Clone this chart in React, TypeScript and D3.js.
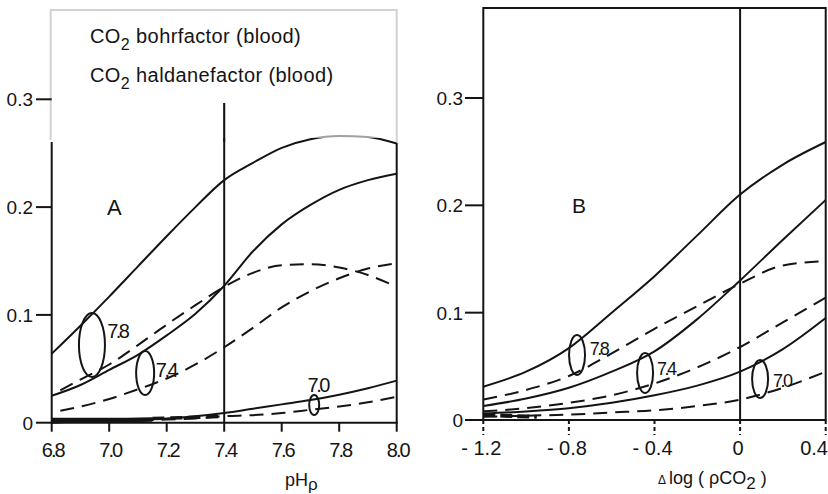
import React from "react";
import * as d3 from "d3";

// ---- axis ticks ----
const pHTicks = [6.8, 7.0, 7.2, 7.4, 7.6, 7.8, 8.0];
const dLogTicks = [-1.2, -0.8, -0.4, 0, 0.4];
const factorTicks = [0, 0.1, 0.2, 0.3];

// ---- panel A: factor vs plasma pH ----
const pHGrid = [6.8, 6.9, 7.0, 7.1, 7.2, 7.3, 7.4, 7.5, 7.6, 7.7, 7.8, 7.9, 8.0];
const pHGridDash = [6.83, 6.9, 7.0, 7.1, 7.2, 7.3, 7.4, 7.5, 7.6, 7.7, 7.8, 7.9, 8.0];
const bohrA78 = [0.064, 0.090, 0.117, 0.145, 0.173, 0.200, 0.225, 0.241, 0.255, 0.263, 0.266, 0.265, 0.259];
const bohrA74 = [0.025, 0.035, 0.049, 0.063, 0.081, 0.101, 0.127, 0.159, 0.184, 0.202, 0.216, 0.225, 0.231];
const bohrA70 = [0.001, 0.0015, 0.002, 0.003, 0.004, 0.006, 0.009, 0.013, 0.017, 0.021, 0.026, 0.032, 0.039];
const haldA78 = [0.030, 0.040, 0.054, 0.072, 0.091, 0.109, 0.126, 0.139, 0.146, 0.147, 0.144, 0.137, 0.126];
const haldA74 = [0.011, 0.015, 0.022, 0.031, 0.041, 0.054, 0.070, 0.088, 0.107, 0.122, 0.134, 0.143, 0.148];
const haldA70 = [0.000, 0.001, 0.001, 0.002, 0.003, 0.004, 0.006, 0.007, 0.009, 0.012, 0.015, 0.019, 0.024];
const lowBandA = [6.8, 7.0, 7.15];
const lowBandAVals = [0.0025, 0.0025, 0.003];
const lowDashA = [7.15, 7.3, 7.4];
const lowDashAVals = [0.004, 0.005, 0.006];

// ---- panel B: factor vs delta log pCO2 ----
const dLogGrid = [-1.2, -1.0, -0.8, -0.6, -0.4, -0.2, 0, 0.2, 0.4];
const bohrB78 = [0.031, 0.045, 0.067, 0.100, 0.134, 0.172, 0.210, 0.238, 0.259];
const bohrB74 = [0.013, 0.020, 0.030, 0.045, 0.064, 0.094, 0.130, 0.168, 0.205];
const bohrB70 = [0.006, 0.008, 0.011, 0.016, 0.023, 0.032, 0.045, 0.066, 0.095];
const haldB78 = [0.019, 0.028, 0.041, 0.062, 0.085, 0.106, 0.127, 0.144, 0.148];
const haldB74 = [0.008, 0.011, 0.016, 0.023, 0.034, 0.049, 0.068, 0.091, 0.114];
const haldB70 = [0.003, 0.004, 0.005, 0.007, 0.009, 0.013, 0.019, 0.030, 0.045];
const lowBandB = [-1.2, -1.1, -0.95];
const lowBandBVals = [0.005, 0.004, 0.003];

// ---- pH markers (ellipse centre and label anchor, in data units) ----
const markLabels = ["7.8", "7.4", "7.0"];
const markA = [
  { x: 6.94, y: 0.072 },
  { x: 7.125, y: 0.046 },
  { x: 7.713, y: 0.0164 },
];
const markALabel = [
  { x: 6.993, y: 0.079 },
  { x: 7.162, y: 0.042 },
  { x: 7.69, y: 0.0285 },
];
const markB = [
  { x: -0.762, y: 0.0606 },
  { x: -0.444, y: 0.0438 },
  { x: 0.0935, y: 0.0382 },
];
const markBLabel = [
  { x: -0.703, y: 0.061 },
  { x: -0.388, y: 0.042 },
  { x: 0.154, y: 0.031 },
];

const FONT = "'Liberation Sans', Arial, sans-serif";
const INK = "#141414";
const DASH = "14 8";

export default function App() {
  const xA = d3.scaleLinear().domain([6.8, 8.0]).range([51.7, 396.7]);
  const yA = d3.scaleLinear().domain([0, 0.3]).range([422.7, 99.3]);
  const xB = d3.scaleLinear().domain([-1.2, 0.4]).range([483.3, 825.7]);
  const yB = d3.scaleLinear().domain([0, 0.3]).range([420, 98]);

  const path = (sx: any, sy: any, xs: number[], ys: number[]) =>
    d3
      .line<number>()
      .x((_, i) => sx(xs[i]))
      .y((d) => sy(d))
      .curve(d3.curveMonotoneX)(ys) || "";

  const curvesA = [
    { xs: pHGrid, ys: bohrA78, dashed: false },
    { xs: pHGrid, ys: bohrA74, dashed: false },
    { xs: pHGrid, ys: bohrA70, dashed: false },
    { xs: pHGridDash, ys: haldA78, dashed: true },
    { xs: pHGridDash, ys: haldA74, dashed: true },
    { xs: pHGrid, ys: haldA70, dashed: true },
  ];
  const curvesB = [
    { xs: dLogGrid, ys: bohrB78, dashed: false },
    { xs: dLogGrid, ys: bohrB74, dashed: false },
    { xs: dLogGrid, ys: bohrB70, dashed: false },
    { xs: dLogGrid, ys: haldB78, dashed: true },
    { xs: dLogGrid, ys: haldB74, dashed: true },
    { xs: dLogGrid, ys: haldB70, dashed: true },
  ];

  const rA = [
    [13, 32],
    [9, 22],
    [5, 10],
  ];
  const rB = [
    [8, 20],
    [8, 20],
    [8, 19],
  ];

  const a0 = yA(0);
  const b0 = yB(0);
  const fmt = (v: number) => (v === 0 ? "0" : v.toFixed(1));
  const lastB = dLogTicks[dLogTicks.length - 1];

  return (
    <svg
      width={828}
      height={494}
      style={{ position: "absolute", left: 0, top: 0, background: "#fff" }}
      fontFamily={FONT}
    >
      <rect x={0} y={0} width={828} height={494} fill="#fff" />

      {/* ===== Panel A ===== */}
      <g>
        {/* frame */}
        <line x1={xA(6.8)} x2={xA(6.8)} y1={142} y2={a0} stroke={INK} strokeWidth={2} />
        <line x1={xA(8.0)} x2={xA(8.0)} y1={143} y2={a0} stroke={INK} strokeWidth={2} />
        <line x1={xA(6.8) - 1} x2={xA(8.0) + 1} y1={a0} y2={a0} stroke={INK} strokeWidth={2} />
        <line x1={xA(7.4)} x2={xA(7.4)} y1={103} y2={a0} stroke={INK} strokeWidth={2} />

        {curvesA.map((c, i) => (
          <path
            key={i}
            d={path(xA, yA, c.xs, c.ys)}
            fill="none"
            stroke={INK}
            strokeWidth={2}
            strokeDasharray={c.dashed ? DASH : undefined}
          />
        ))}
        <path d={path(xA, yA, lowBandA, lowBandAVals)} fill="none" stroke={INK} strokeWidth={4.5} />
        <path
          d={path(xA, yA, lowDashA, lowDashAVals)}
          fill="none"
          stroke={INK}
          strokeWidth={3.5}
          strokeDasharray="12 6"
        />

        {/* legend panel overlapping the top of the plot */}
        <rect x={52.7} y={10} width={343} height={128} fill="#fff" fillOpacity={0.6} />
        <path
          d={`M${xA(6.8) - 1},140 V10 H${xA(8.0)} V142`}
          fill="none"
          stroke="#d2d2d2"
          strokeWidth={2}
        />
        <line x1={xA(7.4)} x2={xA(7.4)} y1={103} y2={142} stroke={INK} strokeWidth={2} />

        {/* y ticks */}
        {factorTicks.map((t) => (
          <g key={t}>
            <line x1={36} x2={xA(6.8)} y1={yA(t)} y2={yA(t)} stroke={INK} strokeWidth={2} />
            <text x={33} y={yA(t) + 7} fontSize={19} textAnchor="end" fill={INK}>
              {fmt(t)}
            </text>
          </g>
        ))}
        {/* x ticks */}
        {pHTicks.map((t) => (
          <g key={t}>
            <line x1={xA(t)} x2={xA(t)} y1={a0} y2={a0 + 9} stroke={INK} strokeWidth={2} />
            <text
              x={xA(t) + 1}
              y={456.5}
              fontSize={20}
              letterSpacing={-2}
              textAnchor="middle"
              fill={INK}
            >
              {t.toFixed(1)}
            </text>
          </g>
        ))}

        {markA.map((m, i) => (
          <ellipse
            key={i}
            cx={xA(m.x)}
            cy={yA(m.y)}
            rx={rA[i][0]}
            ry={rA[i][1]}
            fill="none"
            stroke={INK}
            strokeWidth={2}
          />
        ))}
        {markALabel.map((m, i) => (
          <text key={i} x={xA(m.x)} y={yA(m.y)} fontSize={20} letterSpacing={-2.5} fill={INK}>
            {markLabels[i]}
          </text>
        ))}

        <text x={107} y={215} fontSize={22} fill={INK}>
          A
        </text>

        <text x={90} y={43} fontSize={20} letterSpacing={0.4} fill={INK}>
          CO
          <tspan fontSize={16} dy={7}>
            2
          </tspan>
          <tspan dy={-7}> bohrfactor (blood)</tspan>
        </text>
        <text x={90} y={82} fontSize={20} letterSpacing={0.4} fill={INK}>
          CO
          <tspan fontSize={16} dy={7}>
            2
          </tspan>
          <tspan dy={-7}> haldanefactor (blood)</tspan>
        </text>

        <text x={285} y={485.5} fontSize={18} fill={INK}>
          pH
          <tspan fontSize={17} dy={4}>
            ρ
          </tspan>
        </text>
      </g>

      {/* ===== Panel B ===== */}
      <g>
        <rect
          x={xB(-1.2)}
          y={8}
          width={xB(0.4) - xB(-1.2)}
          height={b0 - 8}
          fill="none"
          stroke={INK}
          strokeWidth={2}
        />
        <line x1={xB(0)} x2={xB(0)} y1={8} y2={b0} stroke={INK} strokeWidth={2} />

        {curvesB.map((c, i) => (
          <path
            key={i}
            d={path(xB, yB, c.xs, c.ys)}
            fill="none"
            stroke={INK}
            strokeWidth={2}
            strokeDasharray={c.dashed ? DASH : undefined}
          />
        ))}
        <path
          d={path(xB, yB, lowBandB, lowBandBVals)}
          fill="none"
          stroke={INK}
          strokeWidth={4}
          strokeDasharray="12 5"
        />

        {factorTicks.map((t) => (
          <g key={t}>
            <line x1={465} x2={xB(-1.2)} y1={yB(t)} y2={yB(t)} stroke={INK} strokeWidth={2} />
            <text x={463} y={yB(t) + 7} fontSize={19} textAnchor="end" fill={INK}>
              {fmt(t)}
            </text>
          </g>
        ))}
        {dLogTicks.map((t) => (
          <g key={t}>
            <line
              x1={xB(t)}
              x2={xB(t)}
              y1={b0}
              y2={b0 + 15}
              stroke={INK}
              strokeWidth={2}
              strokeDasharray="4 3"
            />
            <text
              x={t === lastB ? 828 : xB(t) - 2}
              y={455}
              fontSize={20}
              textAnchor={t === lastB ? "end" : "middle"}
              fill={INK}
            >
              {t === 0 ? "0" : t < 0 ? "- " + Math.abs(t).toFixed(1) : t.toFixed(1)}
            </text>
          </g>
        ))}

        {markB.map((m, i) => (
          <ellipse
            key={i}
            cx={xB(m.x)}
            cy={yB(m.y)}
            rx={rB[i][0]}
            ry={rB[i][1]}
            fill="none"
            stroke={INK}
            strokeWidth={2}
          />
        ))}
        {markBLabel.map((m, i) => (
          <text key={i} x={xB(m.x)} y={yB(m.y)} fontSize={18} letterSpacing={-2.5} fill={INK}>
            {markLabels[i]}
          </text>
        ))}

        <text x={572} y={213} fontSize={21} fill={INK}>
          B
        </text>

        <text x={658} y={484} fontSize={18} fill={INK}>
          <tspan fontSize={12}>Δ</tspan>
          <tspan dx={3}>log ( ρCO</tspan>
          <tspan fontSize={17} dy={5}>
            2
          </tspan>
          <tspan dy={-5}> )</tspan>
        </text>
      </g>
    </svg>
  );
}
